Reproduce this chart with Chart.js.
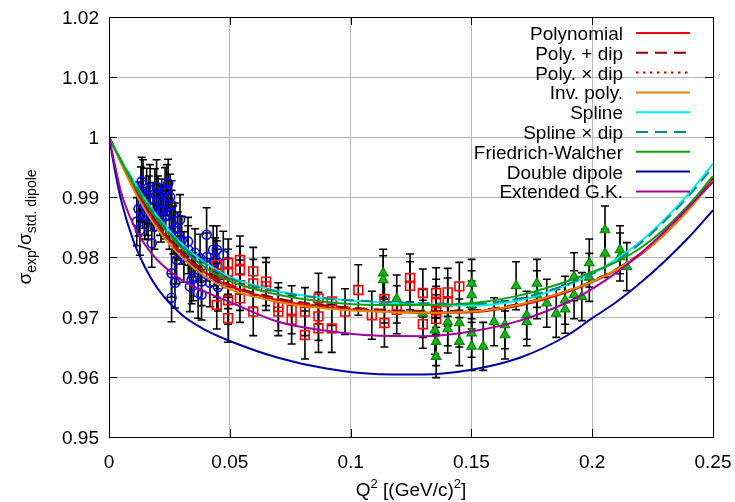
<!DOCTYPE html>
<html><head><meta charset="utf-8">
<script src="https://cdn.jsdelivr.net/npm/chart.js@4.4.0/dist/chart.umd.min.js"></script>
<style>html,body{margin:0;padding:0;background:#fff;}#wrap{width:735px;height:502px;}</style>
</head><body><div id="wrap"><canvas id="c" width="735" height="502"></canvas></div>
<script>
// ---- axis ticks ----
const xTickValues = [0, 0.05, 0.1, 0.15, 0.2, 0.25];
const xTickLabels = ['0', '0.05', '0.1', '0.15', '0.2', '0.25'];
const yTickValues = [0.95, 0.96, 0.97, 0.98, 0.99, 1.0, 1.01, 1.02];
const yTickLabels = ['0.95', '0.96', '0.97', '0.98', '0.99', '1', '1.01', '1.02'];

// ---- fit curves (sampled) ----
const curveQ       = [0, 0.0025, 0.005, 0.01, 0.015, 0.02, 0.03, 0.04, 0.05, 0.07, 0.09, 0.11, 0.13, 0.15, 0.17, 0.19, 0.20, 0.21, 0.22, 0.23, 0.24, 0.25];
const polynomial   = [1.0, 0.9979, 0.9958, 0.9918, 0.9883, 0.9853, 0.9806, 0.9773, 0.9751, 0.9728, 0.9716, 0.9710, 0.9707, 0.9708, 0.9719, 0.9742, 0.9758, 0.9778, 0.9804, 0.9838, 0.9880, 0.9930];
const polyPlusDip  = [1.0, 0.9979, 0.9959, 0.9920, 0.9886, 0.9856, 0.9809, 0.9776, 0.9754, 0.9731, 0.9719, 0.9713, 0.9710, 0.9711, 0.9722, 0.9744, 0.9760, 0.9780, 0.9806, 0.9840, 0.9882, 0.9932];
const polyTimesDip = [1.0, 0.9979, 0.9958, 0.9919, 0.9884, 0.9854, 0.9807, 0.9774, 0.9752, 0.9729, 0.9717, 0.9711, 0.9708, 0.9709, 0.9720, 0.9743, 0.9759, 0.9779, 0.9805, 0.9839, 0.9881, 0.9931];
const invPoly      = [1.0, 0.9978, 0.9956, 0.9914, 0.9878, 0.9847, 0.9800, 0.9767, 0.9746, 0.9725, 0.9714, 0.9709, 0.9707, 0.9709, 0.9721, 0.9744, 0.9759, 0.9779, 0.9805, 0.9838, 0.9879, 0.9927];
const spline       = [1.0, 0.9981, 0.9962, 0.9928, 0.9896, 0.9868, 0.9822, 0.9790, 0.9767, 0.9743, 0.9731, 0.9725, 0.9721, 0.9719, 0.9728, 0.9754, 0.9772, 0.9796, 0.9826, 0.9863, 0.9906, 0.9955];
const splineTimesDip=[1.0, 0.9980, 0.9961, 0.9926, 0.9894, 0.9866, 0.9820, 0.9788, 0.9765, 0.9742, 0.9731, 0.9726, 0.9723, 0.9722, 0.9731, 0.9755, 0.9772, 0.9794, 0.9823, 0.9860, 0.9902, 0.9950];
const friedrichWalcher=[1.0, 0.9980, 0.9960, 0.9923, 0.9891, 0.9862, 0.9815, 0.9782, 0.9760, 0.9737, 0.9725, 0.9720, 0.9720, 0.9723, 0.9736, 0.9760, 0.9775, 0.9792, 0.9815, 0.9847, 0.9887, 0.9935];
const doubleDipole = [1.0, 0.9943, 0.9895, 0.9828, 0.9782, 0.9748, 0.9704, 0.9678, 0.9660, 0.9632, 0.9614, 0.9605, 0.9604, 0.9612, 0.9632, 0.9670, 0.9698, 0.9725, 0.9757, 0.9793, 0.9833, 0.9878];
const extendedGK   = [1.0, 0.9952, 0.9908, 0.9855, 0.9820, 0.9795, 0.9762, 0.9742, 0.9725, 0.9692, 0.9677, 0.9669, 0.9668, 0.9676, 0.9694, 0.9725, 0.9747, 0.9774, 0.9806, 0.9843, 0.9884, 0.9925];

// ---- data set 1 (blue circles) ----
const blueQ   = [0.0115,0.0122,0.0128,0.0132,0.0135,0.0141,0.0148,0.0156,0.0156,0.0162,0.0170,0.0177,0.0183,0.0188,0.0197,0.0203,0.0211,0.0218,0.0224,0.0232,0.0239,0.0245,0.0253,0.0259,0.0259,0.0266,0.0273,0.0259,0.0273,0.0259,0.0280,0.0294,0.0301,0.0327,0.0328,0.0335,0.0342,0.0349,0.0356,0.0369,0.0377,0.0383,0.0383,0.0404,0.0404,0.0418,0.0431,0.0439,0.0446,0.0451,0.0473,0.0140,0.0165,0.0190,0.0215,0.0235,0.0250,0.0285,0.0310];
const blueR   = [0.9859,0.9880,0.9845,0.9905,0.9926,0.9920,0.9870,0.9903,0.9876,0.9867,0.9912,0.9823,0.9884,0.9851,0.9917,0.9895,0.9878,0.9890,0.9878,0.9909,0.9912,0.9923,0.9900,0.9887,0.9873,0.9845,0.9848,0.9773,0.9757,0.9732,0.9795,0.9862,0.9828,0.9826,0.9812,0.9751,0.9762,0.9767,0.9807,0.9740,0.9798,0.9759,0.9737,0.9800,0.9837,0.9757,0.9812,0.9792,0.9812,0.9750,0.9803,0.9890,0.9895,0.9905,0.9865,0.9870,0.9855,0.9835,0.9800];
const blueErr = [0.0040,0.0045,0.0042,0.0045,0.0040,0.0042,0.0040,0.0045,0.0040,0.0038,0.0042,0.0040,0.0040,0.0038,0.0045,0.0040,0.0042,0.0040,0.0040,0.0040,0.0042,0.0040,0.0038,0.0040,0.0038,0.0040,0.0042,0.0040,0.0042,0.0040,0.0040,0.0042,0.0040,0.0040,0.0040,0.0042,0.0040,0.0040,0.0040,0.0042,0.0040,0.0040,0.0042,0.0040,0.0045,0.0040,0.0040,0.0040,0.0040,0.0040,0.0040,0.0042,0.0040,0.0042,0.0040,0.0040,0.0042,0.0040,0.0042];

// ---- data set 2 (red squares) ----
const redQ   = [0.0446,0.0446,0.0446,0.0493,0.0493,0.0493,0.0493,0.0493,0.0542,0.0542,0.0542,0.0542,0.0597,0.0597,0.0597,0.0650,0.0650,0.0701,0.0701,0.0756,0.0756,0.0811,0.0811,0.0867,0.0867,0.0867,0.0922,0.0922,0.0977,0.1032,0.1088,0.1140,0.1140,0.1191,0.1246,0.1246,0.1299,0.1299,0.1354,0.1354,0.1354,0.1354,0.1402,0.1402,0.1450];
const redR   = [0.9787,0.9773,0.9720,0.9790,0.9773,0.9756,0.9728,0.9698,0.9795,0.9778,0.9753,0.9731,0.9776,0.9756,0.9709,0.9759,0.9751,0.9717,0.9709,0.9712,0.9695,0.9709,0.9670,0.9731,0.9701,0.9681,0.9726,0.9681,0.9709,0.9745,0.9703,0.9730,0.9690,0.9712,0.9765,0.9752,0.9740,0.9688,0.9740,0.9723,0.9711,0.9697,0.9741,0.9725,0.9751];
const redErr = [0.0040,0.0040,0.0040,0.0040,0.0040,0.0042,0.0040,0.0040,0.0040,0.0040,0.0042,0.0040,0.0040,0.0040,0.0040,0.0040,0.0040,0.0040,0.0040,0.0040,0.0040,0.0040,0.0040,0.0042,0.0040,0.0040,0.0040,0.0040,0.0038,0.0042,0.0040,0.0040,0.0040,0.0040,0.0040,0.0040,0.0040,0.0040,0.0042,0.0040,0.0040,0.0040,0.0040,0.0040,0.0040];

// ---- data set 3 (green triangles) ----
const greenQ   = [0.1135,0.1135,0.1191,0.1299,0.1349,0.1354,0.1354,0.1402,0.1402,0.1450,0.1450,0.1501,0.1501,0.1501,0.1501,0.1501,0.1549,0.1594,0.1639,0.1639,0.1685,0.1729,0.1729,0.1771,0.1771,0.1812,0.1851,0.1888,0.1888,0.1925,0.1925,0.1957,0.1988,0.1988,0.2053,0.2053,0.2115,0.2115,0.2143];
const greenR   = [0.9773,0.9762,0.9730,0.9706,0.9678,0.9659,0.9634,0.9692,0.9680,0.9690,0.9659,0.9756,0.9737,0.9720,0.9673,0.9651,0.9651,0.9692,0.9687,0.9670,0.9752,0.9703,0.9692,0.9756,0.9737,0.9723,0.9706,0.9728,0.9713,0.9767,0.9737,0.9734,0.9790,0.9766,0.9845,0.9806,0.9812,0.9800,0.9784];
const greenErr = [0.0040,0.0040,0.0040,0.0040,0.0040,0.0040,0.0035,0.0040,0.0040,0.0040,0.0040,0.0040,0.0040,0.0040,0.0040,0.0040,0.0040,0.0040,0.0040,0.0040,0.0040,0.0040,0.0040,0.0040,0.0040,0.0040,0.0040,0.0040,0.0040,0.0040,0.0040,0.0040,0.0040,0.0040,0.0040,0.0040,0.0040,0.0040,0.0040];

const FONT = '"Liberation Sans", Arial, Helvetica, sans-serif';
const FS = 19;

function pts(q, r) { return q.map((x, i) => ({ x: x, y: r[i] })); }

const curveDefs = [
  { label: 'Polynomial',       values: polynomial,       color: '#ff0000', dash: [] },
  { label: 'Poly. + dip',      values: polyPlusDip,      color: '#8b0000', dash: [12, 7] },
  { label: 'Poly. \u00d7 dip', values: polyTimesDip,     color: '#c00000', dash: [2.5, 4.5] },
  { label: 'Inv. poly.',       values: invPoly,          color: '#dd8800', dash: [] },
  { label: 'Spline',           values: spline,           color: '#00eeee', dash: [] },
  { label: 'Spline \u00d7 dip',values: splineTimesDip,   color: '#008b8b', dash: [12, 7] },
  { label: 'Friedrich-Walcher',values: friedrichWalcher, color: '#10a010', dash: [] },
  { label: 'Double dipole',    values: doubleDipole,     color: '#0000a0', dash: [] },
  { label: 'Extended G.K.',    values: extendedGK,       color: '#a000a0', dash: [] }
];

const curveDatasets = curveDefs.map((c, i) => ({
  type: 'line', label: c.label, isCurve: true,
  data: pts(curveQ, c.values),
  borderColor: c.color, backgroundColor: c.color, borderWidth: 2, borderDash: c.dash,
  pointRadius: 0, fill: false, showLine: true,
  cubicInterpolationMode: 'monotone',
  order: curveDefs.length - i
}));

const pointDatasets = [
  { type: 'scatter', label: 'set1', data: pts(blueQ, blueR), errors: blueErr,
    pointStyle: 'circle', pointRadius: 4.5, borderColor: '#0000ff', borderWidth: 1.6, backgroundColor: 'rgba(0,0,0,0)', order: 22 },
  { type: 'scatter', label: 'set2', data: pts(redQ, redR), errors: redErr,
    pointStyle: 'rect', pointRadius: 6.2, borderColor: '#ff0000', borderWidth: 1.6, backgroundColor: 'rgba(0,0,0,0)', order: 21 },
  { type: 'scatter', label: 'set3', data: pts(greenQ, greenR), errors: greenErr,
    pointStyle: 'triangle', pointRadius: 5.5, borderColor: '#008a00', borderWidth: 1.2, backgroundColor: '#22b022', order: 20 }
];

const errorBars = {
  id: 'errorBars',
  beforeDatasetsDraw(chart) {
    const { ctx, chartArea: a, scales: { x, y } } = chart;
    ctx.save();
    ctx.beginPath(); ctx.rect(a.left, a.top, a.right - a.left, a.bottom - a.top); ctx.clip();
    ctx.strokeStyle = '#000'; ctx.lineWidth = 1.6;
    chart.data.datasets.forEach(ds => {
      if (!ds.errors) return;
      ds.data.forEach((p, i) => {
        const e = ds.errors[i];
        const px = x.getPixelForValue(p.x);
        const y1 = y.getPixelForValue(p.y - e), y2 = y.getPixelForValue(p.y + e);
        ctx.beginPath();
        ctx.moveTo(px, y1); ctx.lineTo(px, y2);
        ctx.moveTo(px - 4, y1); ctx.lineTo(px + 4, y1);
        ctx.moveTo(px - 4, y2); ctx.lineTo(px + 4, y2);
        ctx.stroke();
      });
    });
    ctx.restore();
  }
};

const frame = {
  id: 'frame',
  afterDraw(chart) {
    const { ctx, chartArea: a, scales: { x, y } } = chart;
    ctx.save();
    ctx.strokeStyle = '#000'; ctx.lineWidth = 1;
    const T = 8;
    ctx.beginPath();
    yTickValues.forEach(v => {
      const py = Math.round(y.getPixelForValue(v)) + 0.5;
      ctx.moveTo(a.left, py); ctx.lineTo(a.left + T, py);
      ctx.moveTo(a.right, py); ctx.lineTo(a.right - T, py);
    });
    xTickValues.forEach(v => {
      const px = Math.round(x.getPixelForValue(v)) + 0.5;
      ctx.moveTo(px, a.bottom); ctx.lineTo(px, a.bottom - T);
      ctx.moveTo(px, a.top); ctx.lineTo(px, a.top + T);
    });
    ctx.stroke();
    ctx.strokeRect(Math.round(a.left) + 0.5, Math.round(a.top) + 0.5, Math.round(a.right - a.left), Math.round(a.bottom - a.top));
    ctx.restore();
  }
};

function richWidth(ctx, segs) {
  let w = 0;
  segs.forEach(s => { ctx.font = s.size + 'px ' + FONT; w += ctx.measureText(s.t).width; });
  return w;
}
function drawRich(ctx, segs, x0, y0) {
  let x = x0;
  segs.forEach(s => {
    ctx.font = s.size + 'px ' + FONT;
    ctx.fillText(s.t, x, y0 + s.dy);
    x += ctx.measureText(s.t).width;
  });
}

const titles = {
  id: 'titles',
  afterDraw(chart) {
    const ctx = chart.ctx;
    const a = chart.chartArea;
    ctx.save();
    ctx.fillStyle = '#000'; ctx.textBaseline = 'alphabetic'; ctx.textAlign = 'left';
    // y title
    const ySegs = [
      { t: '\u03c3', size: FS, dy: 0 }, { t: 'exp', size: 14, dy: 5 },
      { t: '/', size: FS, dy: 0 },
      { t: '\u03c3', size: FS, dy: 0 }, { t: 'std. dipole', size: 14, dy: 5 }
    ];
    ctx.save();
    ctx.translate(31, (a.top + a.bottom) / 2);
    ctx.rotate(-Math.PI / 2);
    drawRich(ctx, ySegs, -richWidth(ctx, ySegs) / 2, 0);
    ctx.restore();
    // x title
    const xSegs = [
      { t: 'Q', size: FS, dy: 0 }, { t: '2', size: 13, dy: -8 },
      { t: ' [(GeV/c)', size: FS, dy: 0 }, { t: '2', size: 13, dy: -8 },
      { t: ']', size: FS, dy: 0 }
    ];
    drawRich(ctx, xSegs, (a.left + a.right) / 2 - richWidth(ctx, xSegs) / 2, 496);
    ctx.restore();
  }
};

const keyBox = {
  id: 'keyBox',
  afterDraw(chart) {
    const ctx = chart.ctx;
    ctx.save();
    ctx.font = FS + 'px ' + FONT;
    ctx.textAlign = 'right'; ctx.textBaseline = 'alphabetic';
    let row = 0;
    chart.data.datasets.forEach(ds => {
      if (!ds.isCurve) return;
      const cy = 33 + row * 19.8;
      ctx.fillStyle = '#000';
      ctx.fillText(ds.label, 623, cy + 7);
      ctx.strokeStyle = ds.borderColor; ctx.lineWidth = 2;
      ctx.setLineDash(ds.borderDash || []);
      ctx.beginPath(); ctx.moveTo(636, cy); ctx.lineTo(690, cy); ctx.stroke();
      ctx.setLineDash([]);
      row++;
    });
    ctx.restore();
  }
};

function zeroPad(s) { s.paddingLeft = 0; s.paddingRight = 0; s.paddingTop = 0; s.paddingBottom = 0; }

new Chart(document.getElementById('c').getContext('2d'), {
  type: 'scatter',
  data: { datasets: curveDatasets.concat(pointDatasets) },
  options: {
    responsive: false, animation: false, devicePixelRatio: 1,
    layout: { padding: { left: 0, right: 22, top: 17, bottom: 0 } },
    plugins: { legend: { display: false }, tooltip: { enabled: false } },
    scales: {
      x: {
        type: 'linear', min: 0, max: 0.25,
        afterBuildTicks(s) { s.ticks = xTickValues.map(v => ({ value: v })); },
        afterFit(s) { s.height = 65; zeroPad(s); },
        ticks: { callback: (v, i) => xTickLabels[i], font: { family: FONT, size: FS }, color: '#000', padding: 14, maxRotation: 0, autoSkip: false },
        grid: { color: '#b8b8b8', lineWidth: 1, drawTicks: false },
        border: { display: false }
      },
      y: {
        type: 'linear', min: 0.95, max: 1.02,
        afterBuildTicks(s) { s.ticks = yTickValues.map(v => ({ value: v })); },
        afterFit(s) { s.width = 109; zeroPad(s); },
        ticks: { callback: (v, i) => yTickLabels[i], font: { family: FONT, size: FS }, color: '#000', padding: 10, labelOffset: 2, autoSkip: false },
        grid: { color: '#b8b8b8', lineWidth: 1, drawTicks: false },
        border: { display: false }
      }
    }
  },
  plugins: [errorBars, frame, titles, keyBox]
});
</script>
</body></html>
